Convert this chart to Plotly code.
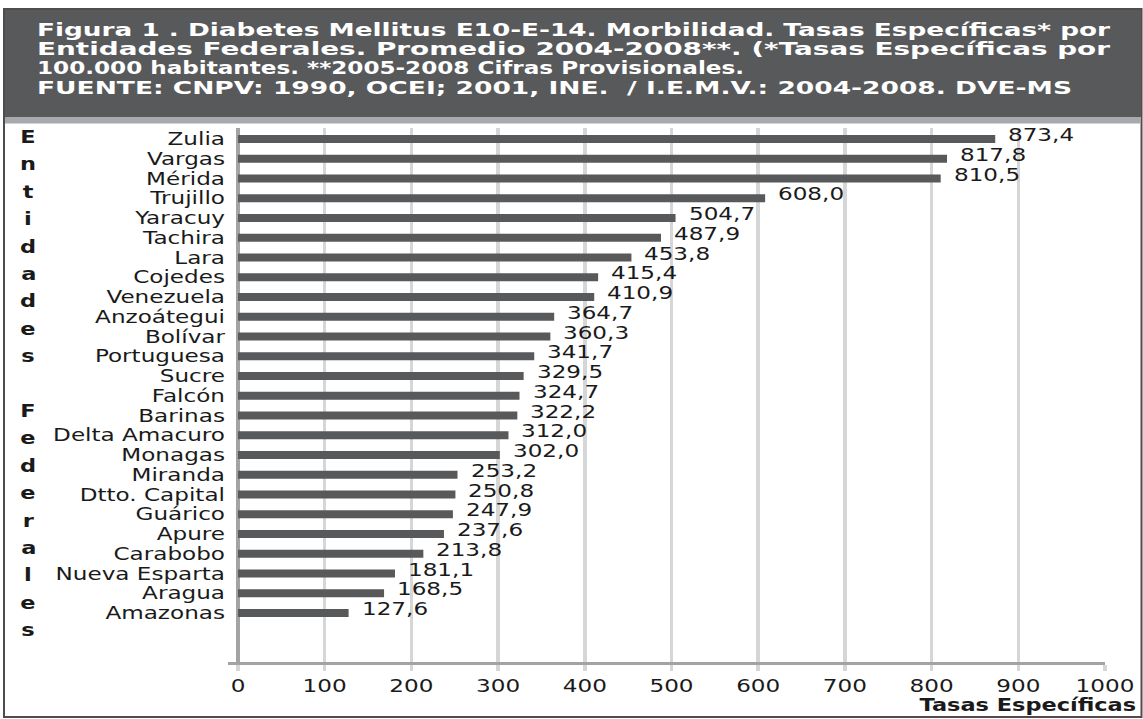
import plotly.graph_objects as go

# ---------------- data ----------------
states = ["Zulia", "Vargas", "Mérida", "Trujillo", "Yaracuy", "Tachira", "Lara",
          "Cojedes", "Venezuela", "Anzoátegui", "Bolívar", "Portuguesa", "Sucre",
          "Falcón", "Barinas", "Delta Amacuro", "Monagas", "Miranda",
          "Dtto. Capital", "Guárico", "Apure", "Carabobo", "Nueva Esparta",
          "Aragua", "Amazonas"]
rates = [873.4, 817.8, 810.5, 608.0, 504.7, 487.9, 453.8, 415.4, 410.9, 364.7,
         360.3, 341.7, 329.5, 324.7, 322.2, 312.0, 302.0, 253.2, 250.8, 247.9,
         237.6, 213.8, 181.1, 168.5, 127.6]
x_ticks = [0, 100, 200, 300, 400, 500, 600, 700, 800, 900, 1000]
title_lines = [
    "Figura 1 . Diabetes Mellitus E10-E-14. Morbilidad. Tasas Específicas* por",
    "Entidades Federales. Promedio 2004-2008**. (*Tasas Específicas por",
    "100.000 habitantes. **2005-2008 Cifras Provisionales.",
    "FUENTE: CNPV: 1990, OCEI; 2001, INE.  / I.E.M.V.: 2004-2008. DVE-MS",
]
y_title = "Entidades Federales"
x_title = "Tasas Específicas"

# ---------------- layout geometry ----------------
W_FIG, H_FIG = 1143, 719
L, R, T, B = 228, 38, 128, 57
PW = W_FIG - L - R
PH = H_FIG - T - B


def PX(px):
    return (px - L) / PW


def PY(py):
    return (T + PH - py) / PH


FONT = "DejaVu Sans"
DARK = "#58595b"
TXT = "#1a1a1a"

fig = go.Figure()
fig.add_trace(go.Bar(
    y=states, x=rates, orientation="h", width=0.405,
    marker=dict(color=DARK, line=dict(width=0)),
    hoverinfo="skip",
))

annotations = []
# value labels
for s, v in zip(states, rates):
    annotations.append(dict(
        x=v, y=s, xref="x", yref="y", text=f"{v:.1f}".replace(".", ","),
        showarrow=False, xanchor="left", yanchor="middle", align="left",
        xshift=11, yshift=4, font=dict(family=FONT, size=17.5, color=TXT)))

# title lines
title_y = [29.5, 49, 68.5, 88]
for line, py in zip(title_lines, title_y):
    annotations.append(dict(
        x=PX(35), y=PY(py), xref="paper", yref="paper", text=line,
        showarrow=False, xanchor="left", yanchor="middle", align="left",
        font=dict(family=FONT, size=17.5, color="white", weight="bold")))

# vertical stacked y-axis title
for i, ch in enumerate(y_title):
    if ch == " ":
        continue
    annotations.append(dict(
        x=PX(28), y=PY(137 + 27.4 * i), xref="paper", yref="paper", text=ch,
        showarrow=False, xanchor="center", yanchor="middle", align="center",
        font=dict(family=FONT, size=17, color=TXT, weight="bold")))

# x-axis title
annotations.append(dict(
    x=PX(1138), y=PY(705), xref="paper", yref="paper", text=x_title,
    showarrow=False, xanchor="right", yanchor="middle", align="right",
    font=dict(family=FONT, size=17, color=TXT, weight="bold")))

shapes = [
    dict(type="rect", xref="paper", yref="paper", x0=PX(4), x1=PX(1141.5),
         y0=PY(717), y1=PY(9), line=dict(color="#4d4d4d", width=2),
         fillcolor="rgba(0,0,0,0)", layer="below"),
    dict(type="rect", xref="paper", yref="paper", x0=PX(5), x1=PX(1141),
         y0=PY(117), y1=PY(10), line=dict(width=0), fillcolor=DARK),
    dict(type="rect", xref="paper", yref="paper", x0=PX(5), x1=PX(1141),
         y0=PY(123.5), y1=PY(117), line=dict(width=0), fillcolor="#a7a9ac"),
]

fig.update_layout(
    width=W_FIG, height=H_FIG,
    margin=dict(l=L, r=R, t=T, b=B, autoexpand=False),
    paper_bgcolor="white", plot_bgcolor="white",
    showlegend=False, hovermode=False,
    annotations=annotations, shapes=shapes,
    xaxis=dict(
        range=[-11.5, 1000], tickmode="array", tickvals=x_ticks,
        ticktext=[str(t) for t in x_ticks],
        showgrid=True, gridcolor="#d6d6d6", gridwidth=3.5,
        zeroline=True, zerolinecolor="#a3a3a3", zerolinewidth=3.5,
        showline=True, linecolor="#a3a3a3", linewidth=3,
        ticks="outside", ticklen=6, tickwidth=3.5, tickcolor="#d6d6d6",
        ticklabelstandoff=0,
        tickfont=dict(family=FONT, size=17.5, color=TXT),
        automargin=False, fixedrange=True,
    ),
    yaxis=dict(
        type="category", categoryorder="array", categoryarray=states,
        tickmode="array", tickvals=states, ticktext=states,
        range=[26.48, -0.557], showgrid=False, zeroline=False, showline=False,
        ticks="", tickfont=dict(family=FONT, size=17.5, color=TXT),
        ticklabelstandoff=2, automargin=False, fixedrange=True,
    ),
)

# Horizontal stretch of the text, as in the reference picture
post = """
var gd = document.getElementById('{plot_id}');
var S = 1.32;
gd.querySelectorAll('text').forEach(function(t){
  if (t.querySelector('tspan.line')) return;
  var txt = t.textContent || '';
  var w = t.getComputedTextLength();
  if (!(w > 0)) return;
  var target = w * S;
  if (txt.indexOf('Figura 1') === 0 || txt.indexOf('Entidades Federales') === 0) target = 1073;
  if (txt.indexOf('FUENTE') === 0) target = 1035;
  t.setAttribute('textLength', target.toFixed(1));
  t.setAttribute('lengthAdjust', 'spacingAndGlyphs');
});
"""

fig.write_html("out.html", config={"displayModeBar": False, "staticPlot": True},
               post_script=post)
